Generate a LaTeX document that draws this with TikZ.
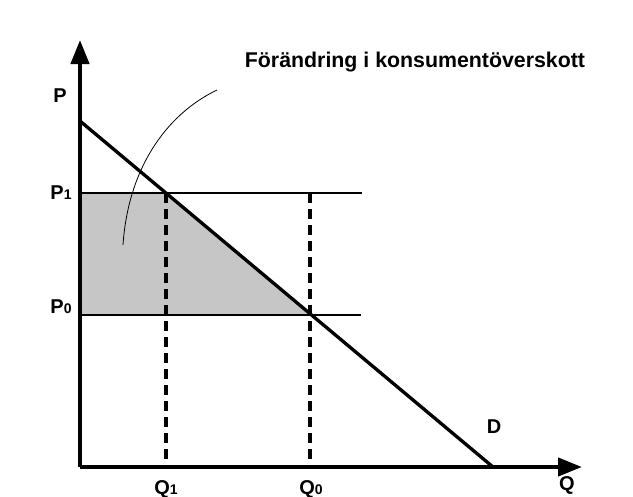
\documentclass[tikz,border=0pt]{standalone}
\usepackage{fontspec}
\setmainfont{Liberation Sans}
\usetikzlibrary{arrows.meta,positioning}

\newcommand{\lbl}{\fontsize{15}{18}\selectfont\bfseries}
\newcommand{\idx}[1]{{\fontsize{10.5}{12}\selectfont #1}}

\begin{document}
\begin{tikzpicture}[x=0.75pt, y=-0.75pt,
    axis/.style={line width=3.2pt, -{Triangle[length=18pt, width=13.5pt]}},
    curve/.style={line width=2.5pt},
    level/.style={line width=2.2pt},
    guide/.style={line width=2.4pt, dash pattern=on 7.5pt off 4.5pt},
    tag/.style={font=\lbl, inner sep=1pt}]
    \useasboundingbox (0,0) rectangle (633,497);
    \fill[white] (0,0) rectangle (633,497);

    % Points
    \coordinate (O) at (80,467);
    \coordinate (Ptip) at (80,40);
    \coordinate (Qtip) at (582,467);
    \coordinate (Dtop) at (80,121);
    \coordinate (Dbot) at (493,467);
    \coordinate (P1) at (80,193);
    \coordinate (P0) at (80,315);
    \coordinate (E1) at (166,193);
    \coordinate (E0) at (310,315);
    \coordinate (P1end) at (362,193);
    \coordinate (P0end) at (361,315);
    \coordinate (Q1) at (166,467);
    \coordinate (Q0) at (310,467);
    \coordinate (Q0top) at (310,193);

    % Shaded area
    \fill[gray!45] (P1) -- (E1) -- (E0) -- (P0) -- cycle;

    % Price levels and guides
    \draw[level] (P1) -- (P1end);
    \draw[level] (P0) -- (P0end);
    \draw[guide] (E1) -- (Q1);
    \draw[guide] (Q0top) -- (Q0);

    % Demand
    \draw[curve] (Dtop) -- (Dbot);

    % Axes
    \draw[axis] (O) -- (Ptip);
    \draw[axis] (O) -- (Qtip);

    % Labels
    \node[tag] (labP) at (60,96) {P};
    \node[tag, anchor=base] (labP1) at (61,199) {P\idx{1}};
    \node[tag, anchor=base] (labP0) at (61,313) {P\idx{0}};
    \node[tag, anchor=base] (labQ1) at (166,494) {Q\idx{1}};
    \node[tag, anchor=base] (labQ0) at (311,494) {Q\idx{0}};
    \node[tag] (labQ) at (567,485) {Q};
    \node[tag] (labD) at (494,427) {D};
    \node[font=\fontsize{16}{19}\selectfont\bfseries] (title) at (415,62) {Förändring i konsumentöverskott};

    % Pointer
    \coordinate (arcA) at (123,245);
    \coordinate (arcB) at (217,90);
    \draw[line width=0.6pt] (arcA) .. controls (128,170) and (165,115) .. (arcB);
\end{tikzpicture}
\end{document}
